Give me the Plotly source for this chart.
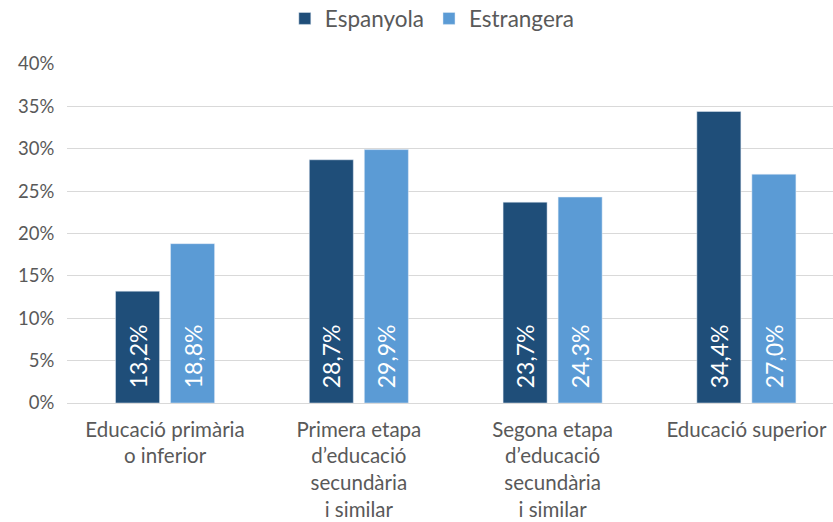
import plotly.graph_objects as go

categories = ["Educació primària<br>o inferior", "Primera etapa<br>d’educació<br>secundària<br>i similar",
              "Segona etapa<br>d’educació<br>secundària<br>i similar", "Educació superior"]
espanyola = [13.2, 28.7, 23.7, 34.4]
estrangera = [18.8, 29.9, 24.3, 27.0]
yticks = [0, 5, 10, 15, 20, 25, 30, 35, 40]

def lab(v):
    return ["\u00a0\u00a0" + f"{x:.1f}".replace(".", ",") + "%" for x in v]

fig = go.Figure()
for name, vals, col in [("Espanyola", espanyola, "#1F4E79"), ("Estrangera", estrangera, "#5B9BD5")]:
    fig.add_trace(go.Bar(
        x=categories, y=vals, name=name, marker_color=col,
        text=lab(vals), textposition="inside", insidetextanchor="start",
        textangle=-90, textfont=dict(color="white", size=23, family="Lato"),
        cliponaxis=False,
    ))

fig.update_layout(
    width=833, height=522,
    margin=dict(l=67, r=0, t=64, b=119, autoexpand=False),
    paper_bgcolor="white", plot_bgcolor="white",
    font=dict(family="Lato", color="#595959", size=18),
    barmode="group", bargap=0.432, bargroupgap=0.2,
    legend=dict(orientation="h", x=0.519, xanchor="center", y=0.964, yanchor="middle",
                xref="container", yref="container", font=dict(size=22.5)),
    showlegend=True,
)
fig.update_yaxes(range=[0, 40], tickvals=yticks, ticktext=[f"{t}%" for t in yticks],
                 showgrid=True, gridcolor="#D9D9D9", gridwidth=1, zeroline=False,
                 showline=False, ticks="outside", ticklen=8, tickcolor="rgba(0,0,0,0)",
                 tickfont=dict(size=18.5), automargin=False)
fig.update_xaxes(range=[-0.506, 3.447], showline=True, linecolor="#D9D9D9", linewidth=1,
                 ticks="outside", ticklen=8, tickcolor="rgba(0,0,0,0)",
                 tickfont=dict(size=20.5), automargin=False)

fig.write_html("out.html", config={"displayModeBar": False},
               post_script="document.body.style.margin='0';document.body.style.overflow='hidden';")
